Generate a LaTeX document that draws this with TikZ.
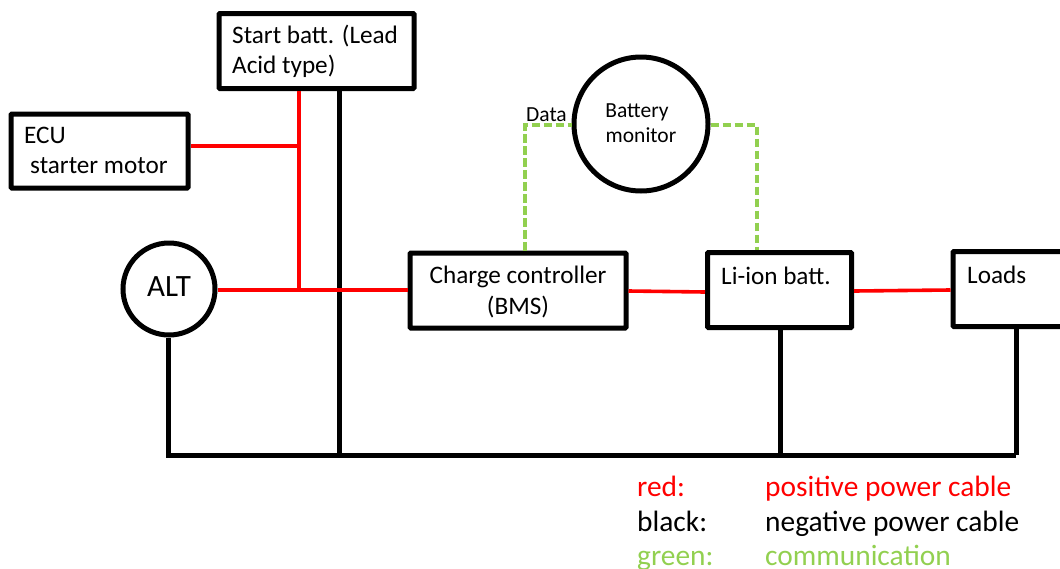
\documentclass[tikz,border=0pt]{standalone}
\usepackage{fontspec}
\setmainfont{Carlito}
\definecolor{grn}{RGB}{146,208,80}
\definecolor{rd}{RGB}{255,0,0}
\tikzset{
 box/.style={draw=black,line width=5pt,rectangle,rounded corners=0.8pt,inner sep=0pt},
 circ/.style={draw=black,line width=5pt,circle,inner sep=0pt,fill=white},
 negwire/.style={line width=5pt,black},
 poswire/.style={line width=3.6pt,rd},
 commwire/.style={line width=3.4pt,grn,dash pattern=on 8.5pt off 3.5pt},
 lab/.style={anchor=base west,inner sep=0pt,font=\fontsize{25.2}{30}\selectfont},
 clab/.style={anchor=base,inner sep=0pt,font=\fontsize{25.2}{30}\selectfont},
 mlab/.style={anchor=base,inner sep=0pt,font=\fontsize{21.5}{26}\selectfont},
 leg/.style={anchor=base west,inner sep=0pt,font=\fontsize{29.4}{34}\selectfont},
}
\begin{document}
\begin{tikzpicture}[x=1pt,y=-1pt]
\useasboundingbox (0,0) rectangle (1060,568);
% boxes
\node[box,minimum width=195pt,minimum height=75pt] (start) at (316.5,51) {};
\node[box,minimum width=177pt,minimum height=74pt] (ecu) at (99.5,151) {};
\node[circ,minimum size=92pt] (alt) at (169,289) {};
\node[box,minimum width=216pt,minimum height=75pt] (bms) at (518,290.5) {};
\node[box,minimum width=144pt,minimum height=75pt] (li) at (779.5,290) {};
\node[box,minimum width=130pt,minimum height=75pt] (loads) at (1018,289) {};
\node[circ,minimum size=134pt] (mon) at (641,124) {};
% coordinates
\coordinate (p1) at (299,146);
\coordinate (p2) at (299,290);
\coordinate (gA) at (168,455);
\coordinate (gB) at (339,455);
\coordinate (gC) at (780,455);
\coordinate (gD) at (1016,455);
\coordinate (dL) at (525,125);
\coordinate (dR) at (757,125);
\coordinate (r1) at (0,291);
\coordinate (r2) at (0,292);
\coordinate (r3) at (0,290);
% negative
\draw[negwire] (start.south -| gB) -- (gB);
\draw[negwire] (alt.south -| gA) -- (gA) -- (gD);
\draw[negwire] (li.south -| gC) -- (gC);
\draw[negwire] (loads.south -| gD) -- (gD);
% positive
\draw[poswire] (start.south -| p1) -- (p2);
\draw[poswire] (ecu.east |- p1) -- (p1);
\draw[poswire] (alt.east |- p2) -- (p2) -- (bms.west |- p2);
\draw[poswire] (bms.east |- r1) -- (li.west |- r2);
\draw[poswire] (li.east |- r1) -- (loads.west |- r3);
% comm
\draw[commwire] (bms.north -| dL) -- (dL) -- (mon.west |- dL);
\draw[commwire] (mon.east |- dR) -- (dR) -- (li.north -| dR);
% labels
\node[lab] (t1) at (232,43) {Start batt. (Lead};
\node[lab] (t2) at (232,73) {Acid type)};
\node[lab] (t3) at (24,143) {ECU};
\node[lab] (t4) at (30,173) {starter motor};
\node[anchor=base,inner sep=0pt,font=\fontsize{31}{36}\selectfont] (t5) at (169,296) {ALT};
\node[clab] (t6) at (518,283) {Charge controller};
\node[clab] (t7) at (518,314) {(BMS)};
\node[lab] (t8) at (721,284) {Li-ion batt.};
\node[lab] (t9) at (967,283) {Loads};
\node[anchor=base west,inner sep=0pt,font=\fontsize{21.5}{26}\selectfont] (t10) at (526,121) {Data};
\node[mlab] (t11) at (637,117) {Battery};
\node[mlab] (t12) at (641,142) {monitor};
% legend
\node[leg,text=rd] (l1) at (637,496) {red:};
\node[leg,text=rd] (l2) at (765,496) {positive power cable};
\node[leg] (l3) at (637,531) {black:};
\node[leg] (l4) at (765,531) {negative power cable};
\node[leg,text=grn] (l5) at (637,565) {green:};
\node[leg,text=grn] (l6) at (765,565) {communication};
\end{tikzpicture}
\end{document}
